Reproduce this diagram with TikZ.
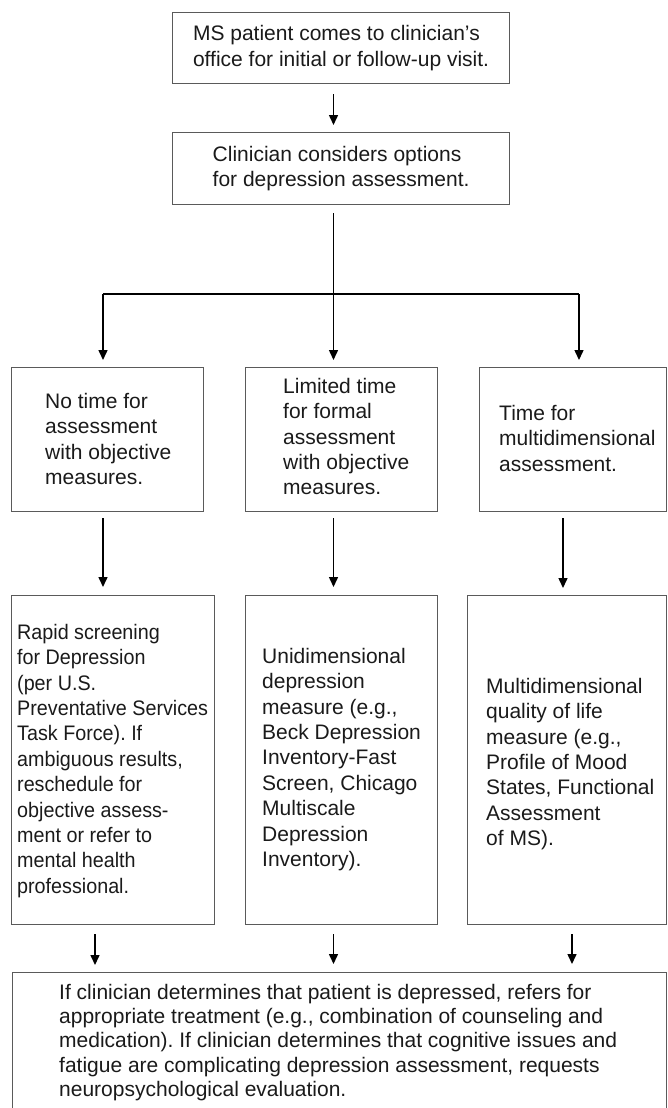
\documentclass[tikz,border=0pt]{standalone}
\usepackage{fontspec}
\setmainfont{Liberation Sans}
\newfontfamily\narrowfont[FakeStretch=0.94]{Liberation Sans}
\usetikzlibrary{arrows.meta,calc}
\definecolor{boxgray}{HTML}{5A5A5A}
\definecolor{textcol}{HTML}{1A1A1A}
\frenchspacing
\begin{document}
\frenchspacing
\begin{tikzpicture}[x=1pt,y=-1pt,
  box/.style={draw=boxgray, line width=1.2pt, anchor=north west, inner sep=0pt},
  boxtxt/.style={align=left, font=\frenchspacing\fontsize{21}{25.4}\selectfont, text=textcol},
  txt/.style={inner sep=0pt, anchor=north west, align=left, font=\frenchspacing\fontsize{21}{25.4}\selectfont, text=textcol},
  arr/.style={-{Triangle[length=10pt,width=9pt]}, line width=1.5pt, black},
  plain/.style={line width=1.5pt, black}]
\useasboundingbox (0,0) rectangle (668,1108);
\clip (0,0) rectangle (668,1108);
% column coordinates
\coordinate (cM) at (333.5,0);
\coordinate (fanL) at (103,294);
\coordinate (fanR) at (579,294);
\coordinate (cA) at (103,0);
\coordinate (cC) at (563,0);
\coordinate (dA) at (95,0);
\coordinate (dC) at (572,0);
% top boxes
\node[box, boxtxt, minimum width=337pt, minimum height=71pt] (top) at (172,12)
  {MS patient comes to clinician’s\\office for initial or follow-up visit.};
\node[box, boxtxt, minimum width=337pt, minimum height=72pt] (opt) at (172,132)
  {Clinician considers options\\for depression assessment.};
% row 2 boxes
\node[box, minimum width=192pt, minimum height=144pt] (A) at (11,367) {};
\node[box, minimum width=192pt, minimum height=144pt] (B) at (245,367) {};
\node[box, minimum width=187pt, minimum height=144pt] (C) at (479,367) {};
\node[txt] (tA) at (45,392) {\rule{0pt}{16pt}No time for\\assessment\\with objective\\measures.};
\node[txt] (tB) at (283,377) {\rule{0pt}{16pt}Limited time\\for formal\\assessment\\with objective\\measures.};
\node[txt] (tC) at (499,404) {\rule{0pt}{16pt}Time for\\multidimensional\\assessment.};
% row 3 boxes
\node[box, minimum width=203pt, minimum height=329pt] (A3) at (11,595) {};
\node[box, minimum width=192pt, minimum height=329pt] (B3) at (245,595) {};
\node[box, minimum width=199pt, minimum height=329pt] (C3) at (467,595) {};
\node[txt, font=\narrowfont\frenchspacing\fontsize{21}{25.4}\selectfont] (tA3) at (17,623)
  {\rule{0pt}{16pt}Rapid screening\\for Depression\\(per U.S.\\Preventative Services\\Task Force). If\\ambiguous results,\\reschedule for\\objective assess-\\ment or refer to\\mental health\\professional.};
\node[txt] (tB3) at (262,647)
  {\rule{0pt}{16pt}Unidimensional\\depression\\measure (e.g.,\\Beck Depression\\Inventory-Fast\\Screen, Chicago\\Multiscale\\Depression\\Inventory).};
\node[txt] (tC3) at (486,677)
  {\rule{0pt}{16pt}Multidimensional\\quality of life\\measure (e.g.,\\Profile of Mood\\States, Functional\\Assessment\\of MS).};
% bottom box
\node[box, minimum width=654pt, minimum height=170pt] (D) at (12,972) {};
\node[txt, font=\frenchspacing\fontsize{21}{24.3}\selectfont] (tD) at (59,983)
  {\rule{0pt}{16pt}If clinician determines that patient is depressed, refers for\\appropriate treatment (e.g., combination of counseling and\\medication). If clinician determines that cognitive issues and\\fatigue are complicating depression assessment, requests\\neuropsychological evaluation.};
% connectors
\draw[arr, shorten <=10pt, shorten >=7pt] (top.south -| cM) -- (opt.north -| cM);
\draw[arr, shorten <=8pt, shorten >=7pt] (opt.south -| cM) -- (B.north -| cM);
\draw[plain] (fanL) -- (fanR);
\draw[arr, shorten >=7pt] (fanL) -- (A.north -| fanL);
\draw[arr, shorten >=7pt] (fanR) -- (C.north -| fanR);
\draw[arr, shorten <=6pt, shorten >=8pt] (A.south -| cA) -- (A3.north -| cA);
\draw[arr, shorten <=6pt, shorten >=8pt] (B.south -| cM) -- (B3.north -| cM);
\draw[arr, shorten <=6pt, shorten >=7pt] (C.south -| cC) -- (C3.north -| cC);
\draw[arr, shorten <=9pt, shorten >=7pt] (A3.south -| dA) -- (D.north -| dA);
\draw[arr, shorten <=9pt, shorten >=8pt] (B3.south -| cM) -- (D.north -| cM);
\draw[arr, shorten <=9pt, shorten >=8pt] (C3.south -| dC) -- (D.north -| dC);
\end{tikzpicture}
\end{document}
